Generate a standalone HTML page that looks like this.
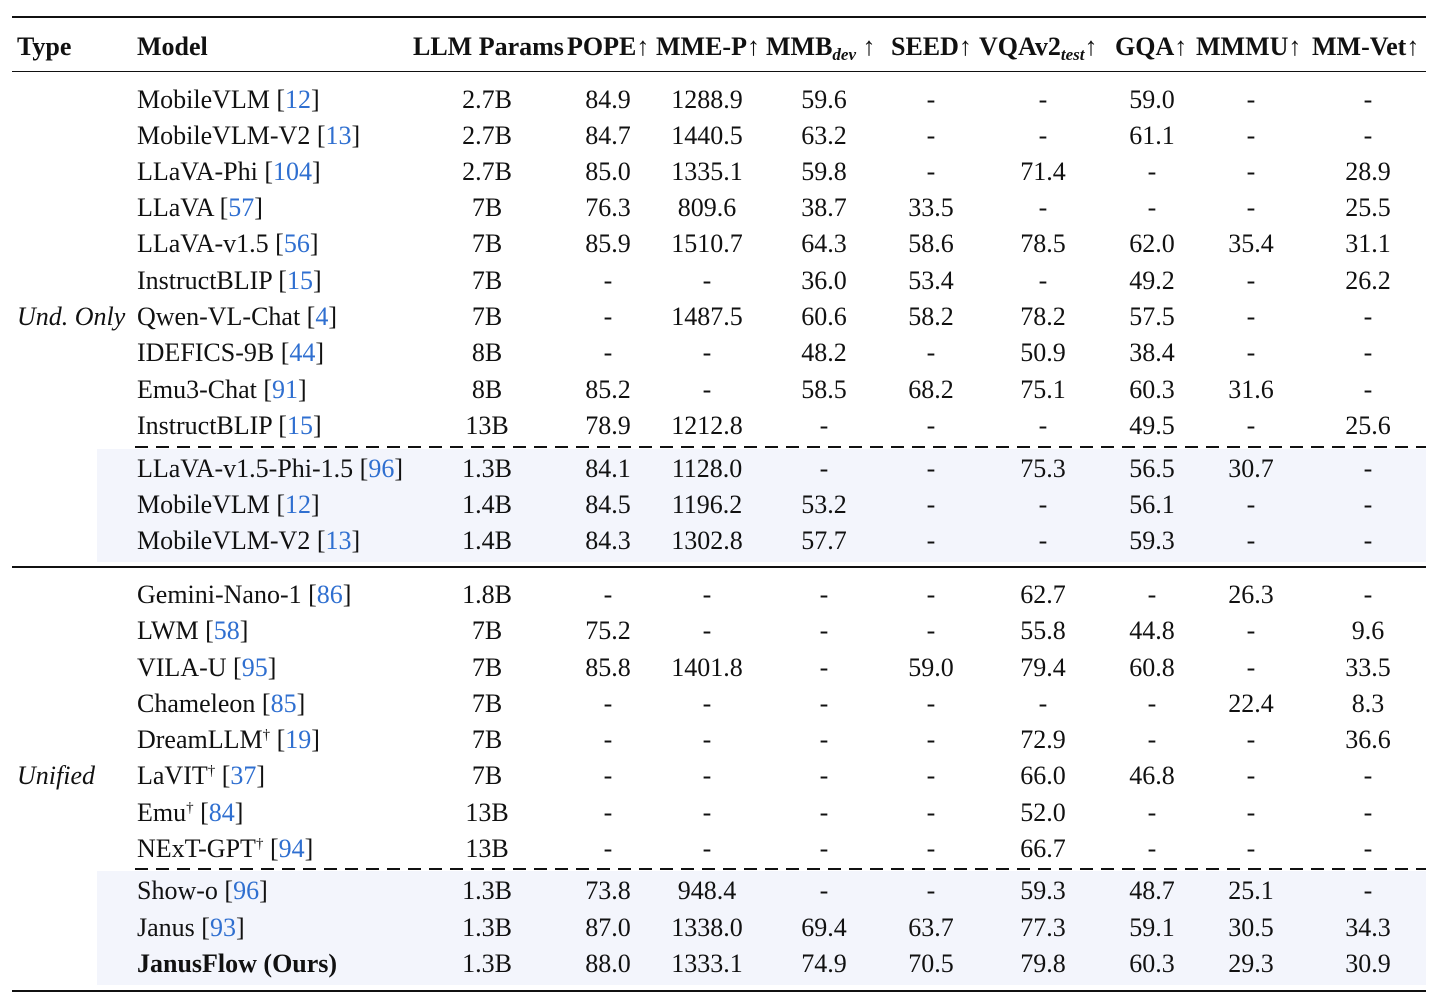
<!DOCTYPE html>
<html><head><meta charset="utf-8"><style>
body{margin:0;width:1440px;height:1005px;background:#fff;position:relative;overflow:hidden;font-family:"Liberation Serif",serif;font-size:26px;color:#111}
.c{position:absolute;transform:translate(-50%,-50%);white-space:nowrap;line-height:1}
.l{position:absolute;transform:translateY(-50%);white-space:nowrap;line-height:1}
.h{font-weight:bold;font-size:26px}
.r{color:#2f6fd0}
.ln{position:absolute;left:12px;width:1414px;background:#111}
.d{position:absolute;height:1.5px;left:135px;width:1291px;background:repeating-linear-gradient(90deg,#111 0 13px,transparent 13px 21px)}
.sh{position:absolute;left:97px;width:1329px;background:#f3f5fc}
sub{font-size:17px;font-style:italic;vertical-align:-5px;line-height:0}
sup{font-size:15px;vertical-align:9px;line-height:0}
</style></head><body>
<div class="sh" style="top:449px;height:113px"></div>
<div class="sh" style="top:871px;height:114px"></div>
<div class="ln" style="top:16px;height:2px"></div>
<div class="ln" style="top:71px;height:1.3px"></div>
<div class="d" style="top:446px"></div>
<div class="ln" style="top:566px;height:1.5px"></div>
<div class="d" style="top:868px"></div>
<div class="ln" style="top:990px;height:2px"></div>

<div class="l h" style="left:17px;top:47px">Type</div>
<div class="l h" style="left:137px;top:47px">Model</div>
<div class="l h" style="left:413px;top:47px">LLM Params</div>
<div class="l h" style="left:567px;top:47px">POPE↑</div>
<div class="l h" style="left:656px;top:47px">MME-P↑</div>
<div class="l h" style="left:766px;top:47px">MMB<sub>dev</sub> ↑</div>
<div class="l h" style="left:891px;top:47px">SEED↑</div>
<div class="l h" style="left:979px;top:47px">VQAv2<sub>test</sub>↑</div>
<div class="l h" style="left:1115px;top:47px">GQA↑</div>
<div class="l h" style="left:1196px;top:47px">MMMU↑</div>
<div class="l h" style="left:1312px;top:47px">MM-Vet↑</div>

<div class="l" style="left:17px;top:317px;font-style:italic">Und. Only</div>
<div class="l" style="left:17px;top:776px;font-style:italic">Unified</div>
<div id="t"></div>
<script>
var X=[487,608,707,824,931,1043,1152,1251,1368];
var R=[
[100,'MobileVLM','12','2.7B','84.9','1288.9','59.6','-','-','59.0','-','-'],
[136,'MobileVLM-V2','13','2.7B','84.7','1440.5','63.2','-','-','61.1','-','-'],
[172,'LLaVA-Phi','104','2.7B','85.0','1335.1','59.8','-','71.4','-','-','28.9'],
[208,'LLaVA','57','7B','76.3','809.6','38.7','33.5','-','-','-','25.5'],
[244,'LLaVA-v1.5','56','7B','85.9','1510.7','64.3','58.6','78.5','62.0','35.4','31.1'],
[281,'InstructBLIP','15','7B','-','-','36.0','53.4','-','49.2','-','26.2'],
[317,'Qwen-VL-Chat','4','7B','-','1487.5','60.6','58.2','78.2','57.5','-','-'],
[353,'IDEFICS-9B','44','8B','-','-','48.2','-','50.9','38.4','-','-'],
[390,'Emu3-Chat','91','8B','85.2','-','58.5','68.2','75.1','60.3','31.6','-'],
[426,'InstructBLIP','15','13B','78.9','1212.8','-','-','-','49.5','-','25.6'],
[469,'LLaVA-v1.5-Phi-1.5','96','1.3B','84.1','1128.0','-','-','75.3','56.5','30.7','-'],
[505,'MobileVLM','12','1.4B','84.5','1196.2','53.2','-','-','56.1','-','-'],
[541,'MobileVLM-V2','13','1.4B','84.3','1302.8','57.7','-','-','59.3','-','-'],
[595,'Gemini-Nano-1','86','1.8B','-','-','-','-','62.7','-','26.3','-'],
[631,'LWM','58','7B','75.2','-','-','-','55.8','44.8','-','9.6'],
[668,'VILA-U','95','7B','85.8','1401.8','-','59.0','79.4','60.8','-','33.5'],
[704,'Chameleon','85','7B','-','-','-','-','-','-','22.4','8.3'],
[740,'DreamLLM<sup>†</sup>','19','7B','-','-','-','-','72.9','-','-','36.6'],
[776,'LaVIT<sup>†</sup>','37','7B','-','-','-','-','66.0','46.8','-','-'],
[813,'Emu<sup>†</sup>','84','13B','-','-','-','-','52.0','-','-','-'],
[849,'NExT-GPT<sup>†</sup>','94','13B','-','-','-','-','66.7','-','-','-'],
[891,'Show-o','96','1.3B','73.8','948.4','-','-','59.3','48.7','25.1','-'],
[928,'Janus','93','1.3B','87.0','1338.0','69.4','63.7','77.3','59.1','30.5','34.3'],
[964,'<b>JanusFlow (Ours)</b>','','1.3B','88.0','1333.1','74.9','70.5','79.8','60.3','29.3','30.9']];
var h='';
R.forEach(function(r){
 h+='<div class="l" style="left:137px;top:'+r[0]+'px">'+r[1]+(r[2]?' [<span class="r">'+r[2]+'</span>]':'')+'</div>';
 for(var i=0;i<9;i++)h+='<div class="c" style="left:'+X[i]+'px;top:'+r[0]+'px">'+r[3+i]+'</div>';
});
document.getElementById('t').innerHTML=h;
</script>
</body></html>
